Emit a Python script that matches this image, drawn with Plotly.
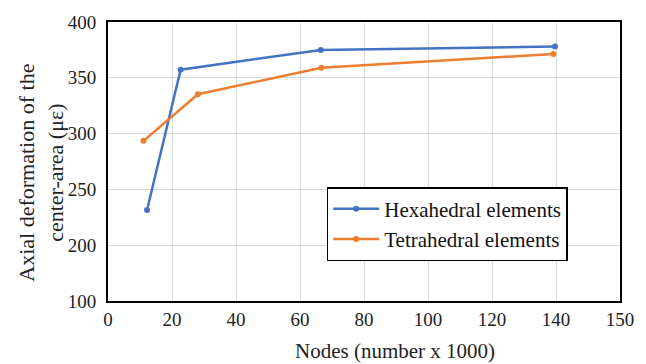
import plotly.graph_objects as go

# Data
hexa_nodes = [12.2, 22.7, 66.5, 139.7]
hexa_def = [231.5, 357.3, 375.0, 378.0]
tetra_nodes = [11.1, 28.1, 66.7, 139.2]
tetra_def = [293.5, 335.3, 359.0, 371.4]

x_tickvals = [0, 20, 40, 60, 80, 100, 120, 140, 160]
x_ticktext = ["0", "20", "40", "60", "80", "100", "120", "140", "150"]
y_tickvals = [150, 200, 250, 300, 350, 400]
y_ticktext = ["100", "200", "250", "300", "350", "400"]

FONT = "'Liberation Serif', 'DejaVu Serif'"
BLUE = "#4472C4"
ORANGE = "#ED7D31"

fig = go.Figure()
fig.add_trace(go.Scatter(x=hexa_nodes, y=hexa_def, mode="lines+markers",
                         name="Hexahedral elements",
                         line=dict(color=BLUE, width=2.5),
                         marker=dict(color=BLUE, size=6)))
fig.add_trace(go.Scatter(x=tetra_nodes, y=tetra_def, mode="lines+markers",
                         name="Tetrahedral elements",
                         line=dict(color=ORANGE, width=2.5),
                         marker=dict(color=ORANGE, size=6)))

L, R, T, B = 108, 23, 17, 63
W, H = 646, 364
pw = W - L - R
ph = H - T - B

fig.update_layout(
    width=W, height=H,
    margin=dict(l=L, r=R, t=T, b=B),
    paper_bgcolor="white", plot_bgcolor="white",
    font=dict(family=FONT, size=19, color="#222222"),
    showlegend=True,
    legend=dict(x=(328 - L) / pw, y=(H - B - 185) / ph,
                xanchor="left", yanchor="top",
                bgcolor="white", bordercolor="black", borderwidth=1.5,
                font=dict(family=FONT, size=21, color="#111111"),
                itemwidth=46, tracegroupgap=0),
    xaxis=dict(range=[0, 160], tickvals=x_tickvals, ticktext=x_ticktext,
               showgrid=True, gridcolor="#DADADA", gridwidth=1,
               showline=True, linecolor="black", linewidth=2, mirror=True,
               ticks="", zeroline=False,
               tickfont=dict(family=FONT, size=19, color="#222222")),
    yaxis=dict(range=[150, 400], tickvals=y_tickvals, ticktext=y_ticktext,
               showgrid=True, gridcolor="#DADADA", gridwidth=1,
               showline=True, linecolor="black", linewidth=2, mirror=True,
               ticks="", zeroline=False, ticklabelstandoff=6,
               tickfont=dict(family=FONT, size=19, color="#222222")),
    annotations=[
        dict(text="Axial deformation of the<br>center-area (με)",
             xref="paper", yref="paper",
             x=-(L - 41) / pw, y=(H - B - 170) / ph,
             xanchor="center", yanchor="middle", textangle=-90,
             showarrow=False,
             font=dict(family=FONT, size=22, color="#222222")),
        dict(text="Nodes (number x 1000)",
             xref="paper", yref="paper",
             x=(397 - L) / pw, y=-(352 - (H - B)) / ph,
             xanchor="center", yanchor="middle",
             showarrow=False,
             font=dict(family=FONT, size=21, color="#222222")),
    ],
)

fig.write_html("out.html", config={"displayModeBar": False},
               post_script="document.body.style.margin='0';document.body.style.padding='0';")
